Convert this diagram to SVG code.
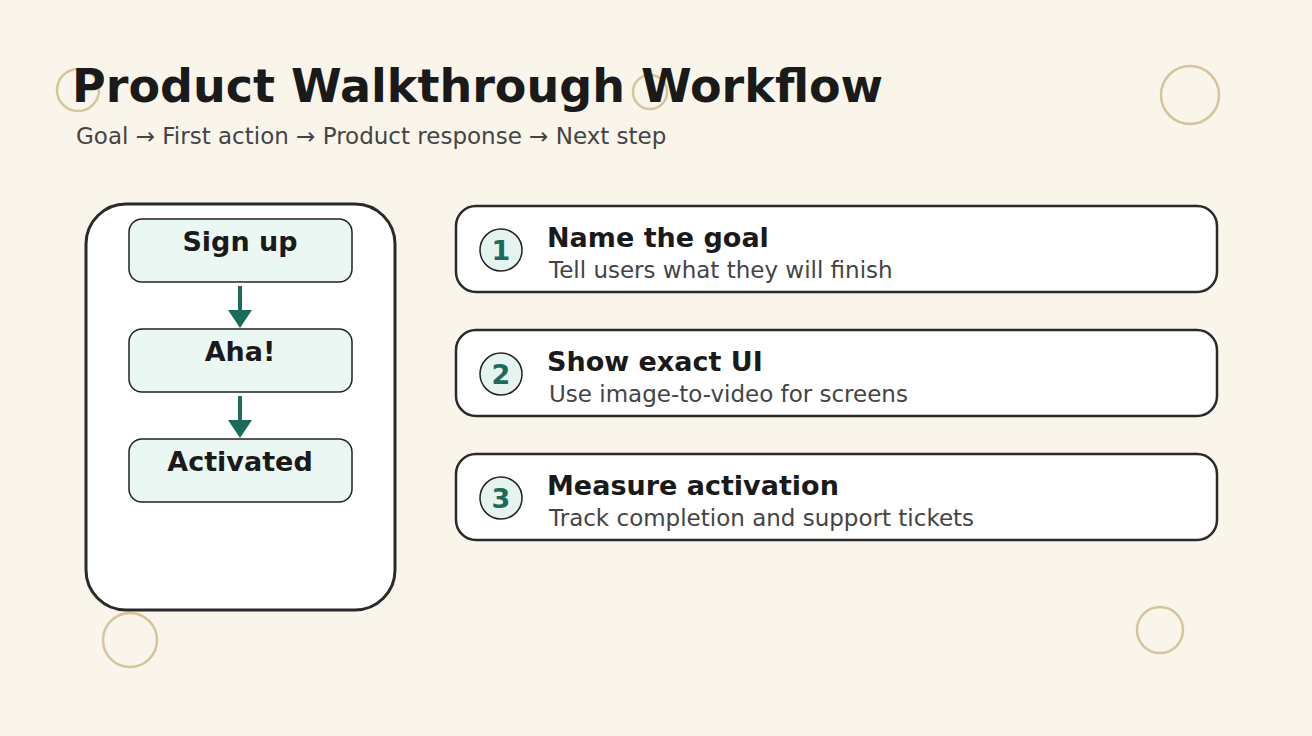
<svg xmlns="http://www.w3.org/2000/svg" width="1312" height="736" viewBox="0 0 1312 736">
<defs>
<style>
text{font-family:"DejaVu Sans",Verdana,sans-serif}
.deco{fill:none;stroke:#d4c59c;stroke-width:2.5}
.title{font-weight:bold;font-size:46px;fill:#1a1a1a}
.sub{font-size:23px;fill:#444}
.panel{fill:#fff;stroke:#2a2a2a;stroke-width:3}
.node rect{fill:#ebf7f2;stroke:#222;stroke-width:1.5}
.ntext{font-weight:bold;font-size:27px;fill:#1a1a1a;text-anchor:middle}
.card{fill:#fff;stroke:#2a2a2a;stroke-width:2.5}
.badge{fill:#e6f4ef;stroke:#222;stroke-width:1.5}
.num{font-weight:bold;font-size:27px;fill:#1b6b58;text-anchor:middle}
.ctitle{font-weight:bold;font-size:27px;fill:#1a1a1a}
.cdesc{font-size:23px;fill:#444}
.conn{stroke:#1b6b58;stroke-width:4;fill:none}
.head{fill:#1b6b58}
</style>
</defs>
<rect width="1312" height="736" fill="#f9f5eb"/>
<g id="decor">
<circle class="deco" cx="78" cy="90" r="21"/>
<circle class="deco" cx="650" cy="92" r="17"/>
<circle class="deco" cx="1190" cy="95" r="29"/>
<circle class="deco" cx="130" cy="640" r="27"/>
<circle class="deco" cx="1160" cy="630" r="23"/>
</g>
<text class="title" x="72" y="102">Product Walkthrough Workflow</text>
<text class="sub" x="76" y="144">Goal → First action → Product response → Next step</text>
<g id="panel"><rect class="panel" x="86" y="204" width="309" height="406" rx="40"/></g>
<g id="node-signup" class="node"><rect x="129" y="219" width="223" height="63" rx="13"/><text class="ntext" x="240" y="251">Sign up</text></g>
<g id="node-aha" class="node"><rect x="129" y="329" width="223" height="63" rx="13"/><text class="ntext" x="240" y="361">Aha!</text></g>
<g id="node-activated" class="node"><rect x="129" y="439" width="223" height="63" rx="13"/><text class="ntext" x="240" y="471">Activated</text></g>
<g id="connectors">
<line class="conn" x1="240" y1="286" x2="240" y2="312"/>
<polygon class="head" points="228,310 252,310 240,328"/>
<line class="conn" x1="240" y1="396" x2="240" y2="422"/>
<polygon class="head" points="228,420 252,420 240,438"/>
</g>
<g id="step-1"><rect class="card" x="456" y="206" width="761" height="86" rx="20"/><circle class="badge" cx="501" cy="250" r="21"/><text class="num" x="501" y="260">1</text><text class="ctitle" x="547" y="247">Name the goal</text><text class="cdesc" x="549" y="278">Tell users what they will finish</text></g>
<g id="step-2"><rect class="card" x="456" y="330" width="761" height="86" rx="20"/><circle class="badge" cx="501" cy="374" r="21"/><text class="num" x="501" y="384">2</text><text class="ctitle" x="547" y="371">Show exact UI</text><text class="cdesc" x="549" y="402">Use image-to-video for screens</text></g>
<g id="step-3"><rect class="card" x="456" y="454" width="761" height="86" rx="20"/><circle class="badge" cx="501" cy="498" r="21"/><text class="num" x="501" y="508">3</text><text class="ctitle" x="547" y="495">Measure activation</text><text class="cdesc" x="549" y="526">Track completion and support tickets</text></g>
</svg>
